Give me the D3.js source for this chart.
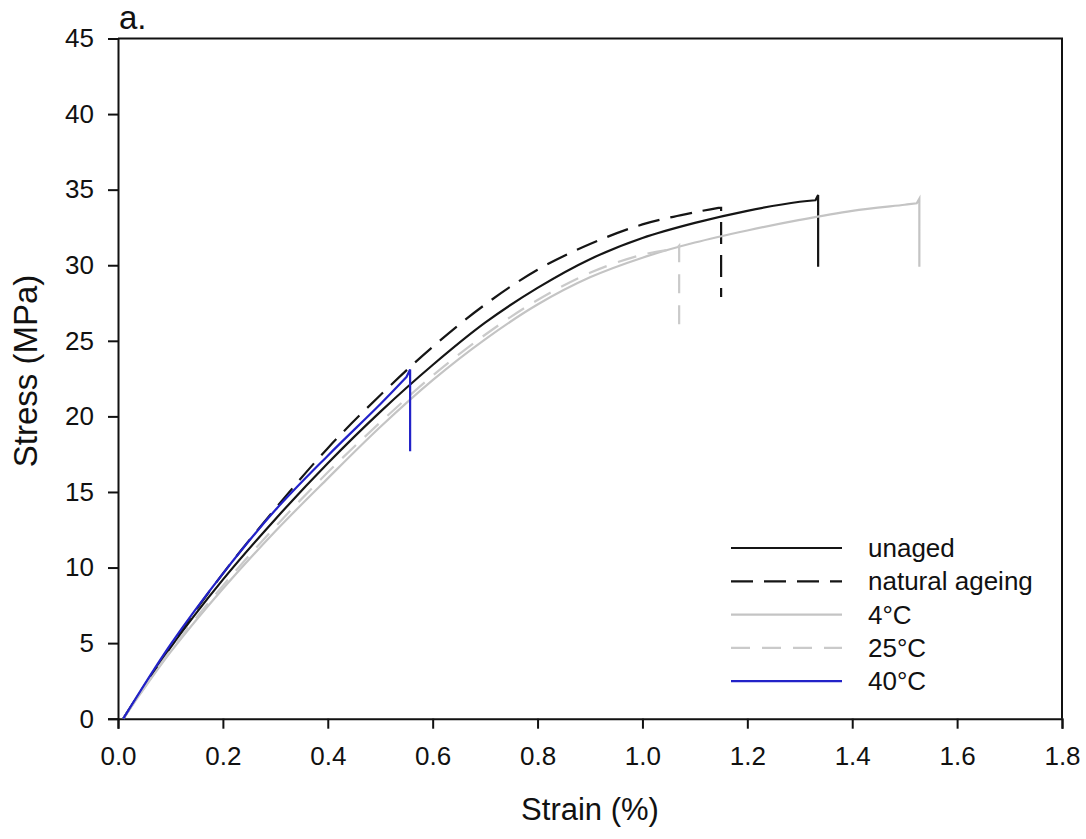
<!DOCTYPE html>
<html>
<head>
<meta charset="utf-8">
<script src="https://cdn.jsdelivr.net/npm/d3@7"></script>
<style>
  body { margin: 0; background: #fff; }
  text { font-family: "Liberation Sans", Arial, sans-serif; fill: #111; }
</style>
</head>
<body>
<div id="chart"></div>
<script>
// strain (%) / stress (MPa)
var unaged_x = [0.01, 0.1, 0.2, 0.3, 0.4, 0.5, 0.6, 0.7, 0.8, 0.9, 1.0, 1.1, 1.2, 1.3, 1.33];
var unaged_y = [0, 4.7, 9.2, 13.2, 16.9, 20.3, 23.4, 26.2, 28.5, 30.4, 31.8, 32.8, 33.6, 34.2, 34.3];
var unaged_end = [[1.335, 34.65], [1.335, 29.9]];

var natural_x = [0.01, 0.1, 0.2, 0.3, 0.4, 0.5, 0.6, 0.7, 0.8, 0.9, 1.0, 1.1, 1.145];
var natural_y = [0, 4.8, 9.6, 13.9, 17.9, 21.4, 24.6, 27.4, 29.7, 31.4, 32.7, 33.5, 33.8];
var natural_end = [[1.15, 33.8], [1.15, 27.9]];

var c4_x = [0.01, 0.1, 0.2, 0.3, 0.4, 0.5, 0.6, 0.7, 0.8, 0.9, 1.0, 1.1, 1.2, 1.3, 1.4, 1.5, 1.523];
var c4_y = [0, 4.4, 8.6, 12.4, 15.9, 19.3, 22.4, 25.1, 27.4, 29.2, 30.5, 31.5, 32.3, 33.0, 33.6, 34.0, 34.1];
var c4_end = [[1.528, 34.4], [1.528, 29.9]];

var c25_x = [0.01, 0.1, 0.2, 0.3, 0.4, 0.5, 0.6, 0.7, 0.8, 0.9, 1.0, 1.065];
var c25_y = [0, 4.5, 8.8, 12.7, 16.3, 19.6, 22.7, 25.4, 27.7, 29.5, 30.7, 31.1];
var c25_end = [[1.07, 31.3], [1.07, 26.0]];

var c40_x = [0.01, 0.1, 0.2, 0.3, 0.4, 0.5, 0.55];
var c40_y = [0, 4.9, 9.6, 13.8, 17.4, 20.8, 22.6];
var c40_end = [[0.557, 23.1], [0.557, 17.7]];

var x_ticks = [0, 0.2, 0.4, 0.6, 0.8, 1.0, 1.2, 1.4, 1.6, 1.8];
var y_ticks = [0, 5, 10, 15, 20, 25, 30, 35, 40, 45];

var series = [
    { name: 'unaged', xs: unaged_x, ys: unaged_y, end: unaged_end, color: '#151515', dash: null },
    { name: 'natural ageing', xs: natural_x, ys: natural_y, end: natural_end, color: '#151515', dash: '22,11' },
    { name: '4°C', xs: c4_x, ys: c4_y, end: c4_end, color: '#c4c4c4', dash: null },
    { name: '25°C', xs: c25_x, ys: c25_y, end: c25_end, color: '#cacaca', dash: '19,12' },
    { name: '40°C', xs: c40_x, ys: c40_y, end: c40_end, color: '#2222c8', dash: null }
];

var chart_width = 1086;
var chart_height = 839;
var plot_left = 118, plot_right = 1062, plot_top = 38.5, plot_bottom = 718.7;

var svg = d3.select('#chart')
    .append('svg')
    .attr('width', chart_width)
    .attr('height', chart_height);

var xScale = d3.scaleLinear().domain([0, 1.8]).range([plot_left, plot_right]);
var yScale = d3.scaleLinear().domain([0, 45]).range([plot_bottom, plot_top]);

// frame (top + right)
svg.append('path')
    .attr('d', 'M' + plot_left + ',' + plot_top + 'H' + plot_right + 'V' + plot_bottom)
    .attr('fill', 'none')
    .attr('stroke', '#111')
    .attr('stroke-width', 2);

// axes
var xAxis = svg.append('g')
    .attr('transform', 'translate(0,' + plot_bottom + ')')
    .call(d3.axisBottom(xScale).tickValues(x_ticks).tickFormat(d3.format('.1f')).tickSize(10).tickPadding(18));
var yAxis = svg.append('g')
    .attr('transform', 'translate(' + plot_left + ',0)')
    .call(d3.axisLeft(yScale).tickValues(y_ticks).tickSize(10).tickPadding(14));

[xAxis, yAxis].forEach(function(a) {
    a.select('.domain').attr('stroke', '#111').attr('stroke-width', 2);
    a.selectAll('.tick line').attr('stroke', '#111').attr('stroke-width', 2);
    a.selectAll('.tick text')
        .style('font-family', '"Liberation Sans", Arial, sans-serif')
        .style('font-size', '26px')
        .attr('fill', '#111');
});
xAxis.selectAll('.tick text').attr('dy', '0.71em');

// curves
var curve = d3.line()
    .x(function(d) { return xScale(d[0]); })
    .y(function(d) { return yScale(d[1]); })
    .curve(d3.curveCatmullRom.alpha(0.5));
var straight = d3.line()
    .x(function(d) { return xScale(d[0]); })
    .y(function(d) { return yScale(d[1]); });

series.forEach(function(s) {
    var pts = s.xs.map(function(x, i) { return [x, s.ys[i]]; });
    var tail = [pts[pts.length - 1]].concat(s.end);
    var g = svg.append('g')
        .attr('fill', 'none')
        .attr('stroke', s.color)
        .attr('stroke-width', 2.2);
    g.append('path').attr('d', curve(pts) + straight(tail).replace(/^M[^L]*/, ''))
        .attr('stroke-dasharray', s.dash);
});

// legend
var legend = svg.append('g');
series.forEach(function(s, i) {
    var y = 548 + i * 33.3;
    legend.append('line')
        .attr('x1', 731).attr('x2', 842)
        .attr('y1', y).attr('y2', y)
        .attr('stroke', s.color)
        .attr('stroke-width', 2.2)
        .attr('stroke-dasharray', s.dash);
    legend.append('text')
        .attr('x', 868).attr('y', y + 9)
        .style('font-size', '26px')
        .text(s.name);
});

// titles
svg.append('text')
    .attr('x', 590).attr('y', 820)
    .attr('text-anchor', 'middle')
    .style('font-size', '31px')
    .text('Strain (%)');
svg.append('text')
    .attr('transform', 'translate(37,371) rotate(-90)')
    .attr('text-anchor', 'middle')
    .style('font-size', '33px')
    .text('Stress (MPa)');
svg.append('text')
    .attr('x', 119).attr('y', 29)
    .style('font-size', '33px')
    .text('a.');
</script>
</body>
</html>
